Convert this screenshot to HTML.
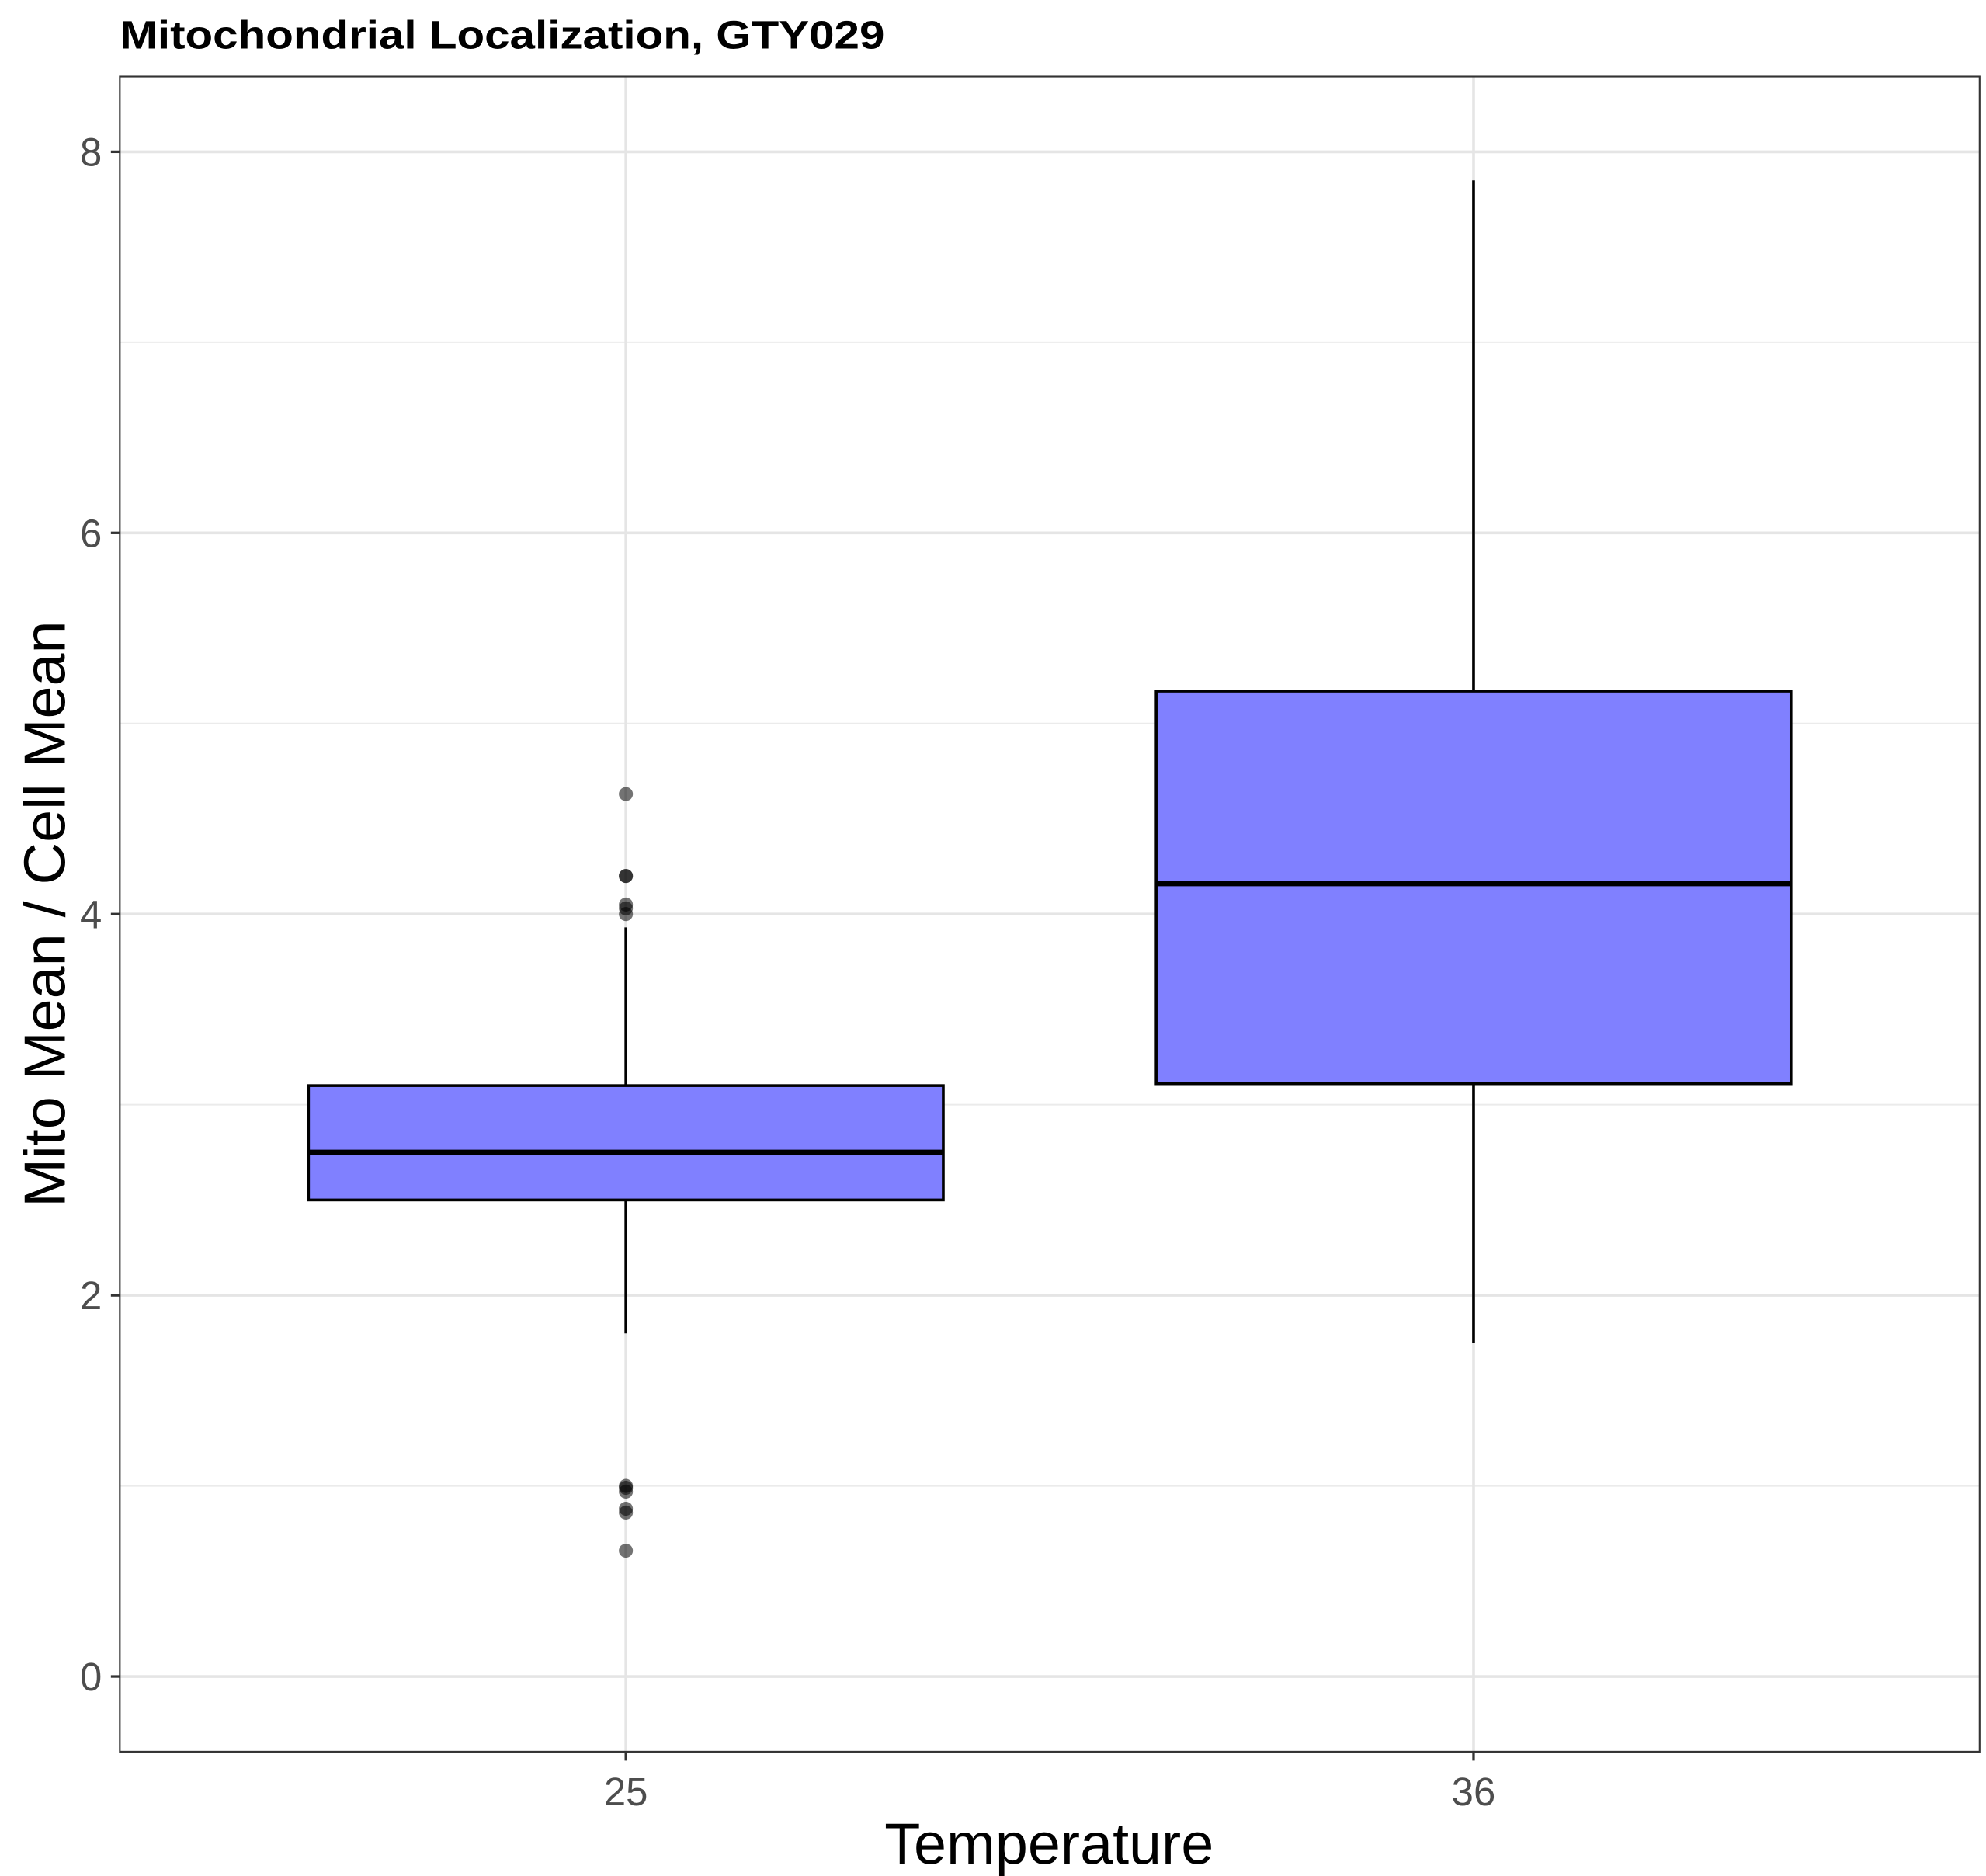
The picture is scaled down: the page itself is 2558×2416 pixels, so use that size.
<!DOCTYPE html>
<html><head><meta charset="utf-8"><style>html,body{margin:0;padding:0;background:#fff}svg{display:block}</style></head>
<body>
<svg id="chart" xmlns="http://www.w3.org/2000/svg" width="2558" height="2416" viewBox="0 0 1558 1471.5" font-family="Liberation Sans, Arial, sans-serif">
<rect width="1558" height="1471.5" fill="#fff"/>
<text x="94" y="38" font-size="31" font-weight="bold" fill="#000" textLength="600" lengthAdjust="spacingAndGlyphs">Mitochondrial Localization, GTY029</text>
<g id="grid"></g>
<g id="marks"></g>
<rect x="94" y="60" width="1459" height="1314" fill="none" stroke="#333" stroke-width="1.3"/>
<g id="axes"></g>
<text x="823" y="1462" font-size="46" text-anchor="middle" fill="#000">Temperature</text>
<text transform="translate(51,717) rotate(-90)" font-size="46" text-anchor="middle" fill="#000">Mito Mean / Cell Mean</text>
</svg>
<script>
const categories = ["25", "36"];
const q1 = [2.5, 3.11];
const medians = [2.75, 4.16];
const q3 = [3.1, 5.17];
const whiskerLow = [1.8, 1.75];
const whiskerHigh = [3.93, 7.85];
const outliers25 = [4.63, 4.2, 4.2, 4.05, 4.03, 4.0, 1.0, 0.99, 0.97, 0.88, 0.86, 0.66];
const outliers36 = [];
const yTicks = [0, 2, 4, 6, 8];
const yMinor = [1, 3, 5, 7];

const NS = "http://www.w3.org/2000/svg";
const y = v => 1315 - v * 149.5;
const xPos = i => 491 + i * 665;
const halfW = 249;
function mk(tag, attrs, parent) {
  const e = document.createElementNS(NS, tag);
  for (const k in attrs) e.setAttribute(k, attrs[k]);
  parent.appendChild(e);
  return e;
}
const grid = document.getElementById('grid');
const marks = document.getElementById('marks');
const axes = document.getElementById('axes');
yMinor.forEach(v => {
  const l = mk('line', {x1: 94, x2: 1553, y1: y(v), y2: y(v), stroke: '#ebebeb', 'stroke-width': 1.2}, grid);
  
  
});
yTicks.forEach(v => {
  const l = mk('line', {x1: 94, x2: 1553, y1: y(v), y2: y(v), stroke: '#e5e5e5', 'stroke-width': 2.2}, grid);
  
  
  const t = mk('line', {x1: 87, x2: 94, y1: y(v), y2: y(v), stroke: '#333', 'stroke-width': 2}, axes);
  
  
  const tx = mk('text', {x: 80, y: y(v) + 11, 'font-size': 31, 'text-anchor': 'end', fill: '#4d4d4d'}, axes);
  tx.textContent = v;
  
  
});
categories.forEach((c, i) => {
  const x = xPos(i);
  const g = mk('line', {x1: x, x2: x, y1: 60, y2: 1374, stroke: '#e5e5e5', 'stroke-width': 2.2}, grid);
  
  
  const t = mk('line', {x1: x, x2: x, y1: 1374, y2: 1381, stroke: '#333', 'stroke-width': 2}, axes);
  
  
  const tx = mk('text', {x: x, y: 1416, 'font-size': 31, 'text-anchor': 'middle', fill: '#4d4d4d'}, axes);
  tx.textContent = c;
  
  

  const w1 = mk('line', {x1: x, x2: x, y1: y(whiskerHigh[i]), y2: y(q3[i]), stroke: '#000', 'stroke-width': 2.2}, marks);
  
  
  const w2 = mk('line', {x1: x, x2: x, y1: y(q1[i]), y2: y(whiskerLow[i]), stroke: '#000', 'stroke-width': 2.2}, marks);
  
  
  const b = mk('rect', {x: x - halfW, y: y(q3[i]), width: 2 * halfW, height: y(q1[i]) - y(q3[i]), fill: '#8080ff', stroke: '#000', 'stroke-width': 2.2}, marks);
  
  
  const m = mk('line', {x1: x - halfW, x2: x + halfW, y1: y(medians[i]), y2: y(medians[i]), stroke: '#000', 'stroke-width': 4.2}, marks);
  
  
  const outs = i === 0 ? outliers25 : outliers36;
  outs.forEach(v => {
    const p = mk('circle', {cx: x, cy: y(v), r: 5.5, fill: '#000', 'fill-opacity': 0.55}, marks);
    
    
  });
});
</script>
</body></html>
